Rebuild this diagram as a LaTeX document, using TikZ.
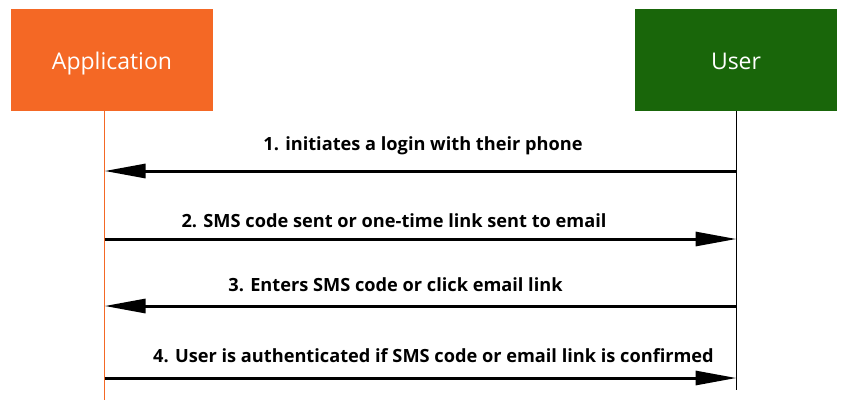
\documentclass[tikz,border=0pt]{standalone}
\usepackage{fontspec}
\setmainfont{Open Sans}
\usetikzlibrary{arrows.meta}
\definecolor{apporange}{HTML}{F46825}
\definecolor{usergreen}{HTML}{19660A}

\tikzset{
  actor/.style={minimum width=202pt, minimum height=102pt, inner sep=0pt, text=white, text height=18pt, text depth=0pt, font=\fontsize{23}{26}\selectfont},
  msg/.style={line width=3pt, -{Triangle[length=41pt, width=14pt]}},
  msglabel/.style={anchor=base, inner sep=0pt, font=\fontsize{18.2}{22}\selectfont\bfseries}
}

\begin{document}
\begin{tikzpicture}[x=1pt, y=-1pt]
  \useasboundingbox (0,0) rectangle (850,400);

  \node[actor, fill=apporange] (app) at (112,60) {Application};
  \node[actor, fill=usergreen] (user) at (736,60) {User};

  % lifelines
  \coordinate (append) at (104.5,400);
  \coordinate (userend) at (736.5,390);
  \draw[apporange, line width=1.2pt] (app.south -| append) -- (append);
  \draw[line width=1.2pt] (user.south -| userend) -- (userend);

  % messages
  \coordinate (a1) at (104.5,171);
  \coordinate (u1) at (736.5,171);
  \coordinate (a2) at (104.5,239);
  \coordinate (u2) at (736.5,239);
  \coordinate (a3) at (104.5,306);
  \coordinate (u3) at (736.5,306);
  \coordinate (a4) at (104.5,378);
  \coordinate (u4) at (736.5,378);

  \draw[msg] (u1) -- (a1);
  \draw[msg] (a2) -- (u2);
  \draw[msg] (u3) -- (a3);
  \draw[msg] (a4) -- (u4);

  \node[msglabel] (m1) at (423,150) {1. initiates a login with their phone};
  \node[msglabel] (m2) at (394,227) {2. SMS code sent or one-time link sent to email};
  \node[msglabel] (m3) at (395.5,291) {3. Enters SMS code or click email link};
  \node[msglabel] (m4) at (433.5,362) {4. User is authenticated if SMS code or email link is confirmed};
\end{tikzpicture}
\end{document}
